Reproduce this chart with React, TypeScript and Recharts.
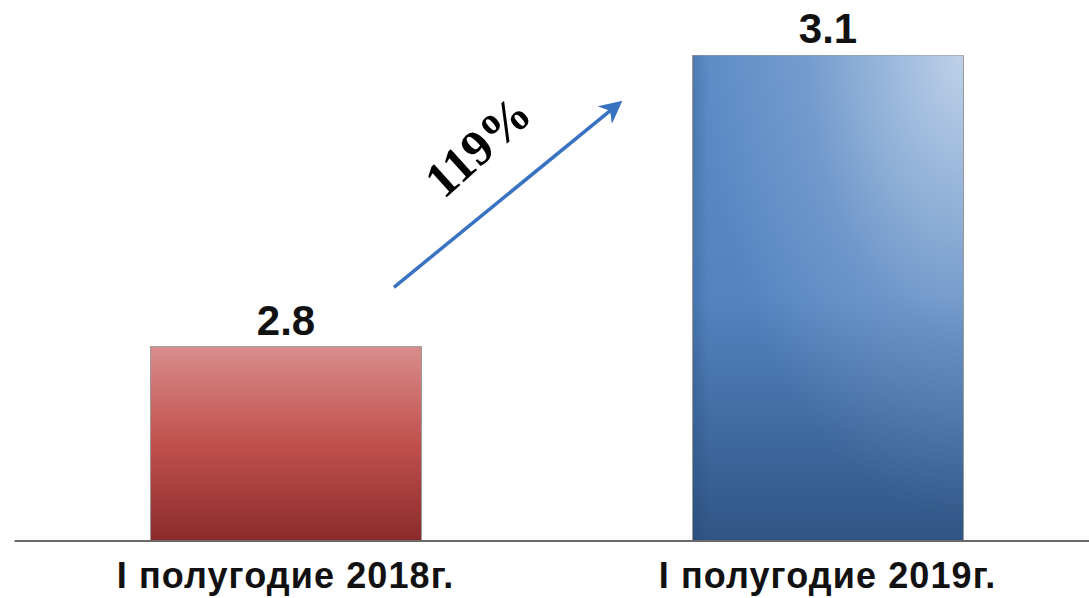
import React from "react";
import { BarChart, Bar, XAxis, YAxis, LabelList, ReferenceLine, ReferenceDot } from "recharts";

const categories = ["I полугодие 2018г.", "I полугодие 2019г."];
const values = [2.8, 3.1];
const growthLabel = "119%";
// annotation arrow, x as a fraction of the plot width, y in value units
const arrowFrom = { x: 0.35, y: 2.861 };
const arrowTo = { x: 0.5575, y: 3.05 };
const growthAt = { x: 0.4275, y: 3.006 };

const data = categories.map((c, i) => ({ name: c, value: values[i] }));

const FONT = "'Liberation Sans', Arial, sans-serif";

const BarShape = (props: any) => {
  const { x, y, width, height, index } = props;
  if (index === 0) {
    return (
      <g>
        <rect x={x} y={y} width={width} height={height} fill="url(#redGrad)" stroke="#9a9a9a" strokeWidth={1} />
      </g>
    );
  }
  return (
    <g>
      <rect x={x} y={y} width={width} height={height} fill="url(#blueGrad)" />
      <rect x={x} y={y} width={width} height={height} fill="url(#blueHi)" />
      <rect x={x} y={y} width={width} height={height} fill="url(#blueEdge)" stroke="#9a9a9a" strokeWidth={1} />
    </g>
  );
};

const Tick = (props: any) => {
  const { x, y, payload } = props;
  return (
    <text x={x} y={y + 47} textAnchor="middle" fontFamily={FONT} fontWeight="bold" fontSize={36} letterSpacing={1.1} fill="#111">
      {payload.value}
    </text>
  );
};

const ArrowShape = (props: any) => {
  const { x1, y1, x2, y2 } = props;
  return <line x1={x1} y1={y1} x2={x2} y2={y2} stroke="#3a72c2" strokeWidth={3.5} markerEnd="url(#arrowHead)" />;
};

const GrowthText = (props: any) => {
  const { cx, cy } = props;
  return (
    <text
      x={cx}
      y={cy}
      textAnchor="middle"
      dominantBaseline="central"
      fontFamily="'Liberation Serif', 'Times New Roman', serif"
      fontWeight="bold"
      fontSize={50}
      fill="#000"
      transform={`rotate(-42 ${cx} ${cy})`}
    >
      {growthLabel}
    </text>
  );
};

export default function App() {
  return (
    <div style={{ position: "absolute", left: 0, top: 0, width: 1089, height: 598, overflow: "hidden", background: "#fff" }}>
      <BarChart width={1100} height={598} data={data} margin={{ top: 55, right: 1.5, left: 14.5, bottom: 0 }} barSize={271}>
        <defs>
          <linearGradient id="redGrad" x1="0" y1="0" x2="0" y2="1">
            <stop offset="0" stopColor="#d98d8c" />
            <stop offset="0.5" stopColor="#c0504d" />
            <stop offset="1" stopColor="#8a2b2c" />
          </linearGradient>
          <linearGradient id="blueGrad" x1="0" y1="0" x2="0" y2="1">
            <stop offset="0" stopColor="#5d8cc6" />
            <stop offset="0.5" stopColor="#5384c0" />
            <stop offset="1" stopColor="#2f5584" />
          </linearGradient>
          <radialGradient id="blueHi" cx="1" cy="0" r="0.95">
            <stop offset="0" stopColor="#ffffff" stopOpacity={0.6} />
            <stop offset="0.6" stopColor="#ffffff" stopOpacity={0.15} />
            <stop offset="1" stopColor="#ffffff" stopOpacity={0} />
          </radialGradient>
          <linearGradient id="blueEdge" x1="0" y1="0" x2="1" y2="0">
            <stop offset="0" stopColor="#1f3f6a" stopOpacity={0.25} />
            <stop offset="0.06" stopColor="#1f3f6a" stopOpacity={0} />
            <stop offset="1" stopColor="#1f3f6a" stopOpacity={0} />
          </linearGradient>
          <marker id="arrowHead" viewBox="0 0 10 10" refX="8" refY="5" markerWidth="6.5" markerHeight="6.5" orient="auto" markerUnits="strokeWidth">
            <path d="M0,0 L10,5 L0,10 L3,5 z" fill="#3a72c2" />
          </marker>
        </defs>
        <XAxis
          dataKey="name"
          axisLine={{ stroke: "#6a6a6a", strokeWidth: 2 }}
          tickLine={false}
          tickSize={0}
          tickMargin={0}
          height={57}
          tick={<Tick />}
          interval={0}
        />
        <XAxis xAxisId="ann" type="number" domain={[0, 1]} allowDataOverflow hide />
        <YAxis domain={[2.6, 3.1]} hide allowDataOverflow />
        <Bar dataKey="value" shape={<BarShape />} isAnimationActive={false}>
          <LabelList dataKey="value" position="top" offset={12} fontFamily={FONT} fontWeight="bold" fontSize={42} fill="#111" />
        </Bar>
        <ReferenceLine
          xAxisId="ann"
          segment={[arrowFrom, arrowTo]}
          ifOverflow="visible"
          shape={<ArrowShape />}
        />
        <ReferenceDot xAxisId="ann" x={growthAt.x} y={growthAt.y} r={0} ifOverflow="visible" shape={<GrowthText />} />
      </BarChart>
    </div>
  );
}
